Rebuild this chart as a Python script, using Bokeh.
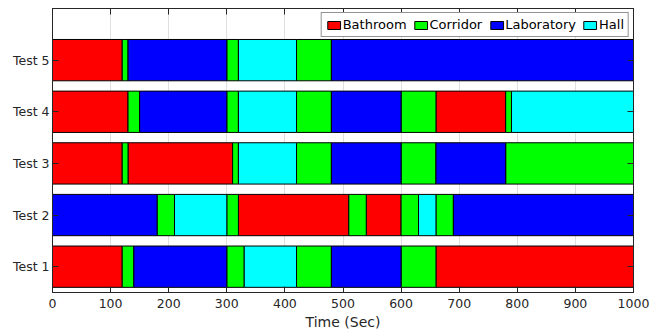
from bokeh.plotting import figure
from bokeh.models import ColumnDataSource, LinearAxis, FixedTicker, Range1d
from bokeh.embed import file_html
from bokeh.resources import INLINE

# ---- data ----
tests = ["Test 1", "Test 2", "Test 3", "Test 4", "Test 5"]
rooms = ["Bathroom", "Corridor", "Laboratory", "Hall"]
room_colors = ["#ff0000", "#00ff00", "#0000ff", "#00ffff"]

test1_edges = [0, 120, 140, 300, 330, 420, 480, 600, 660, 1000]
test1_rooms = ["Bathroom", "Corridor", "Laboratory", "Corridor", "Hall", "Corridor",
               "Laboratory", "Corridor", "Bathroom"]

test2_edges = [0, 180, 210, 300, 320, 510, 540, 600, 630, 660, 690, 1000]
test2_rooms = ["Laboratory", "Corridor", "Hall", "Corridor", "Bathroom", "Corridor",
               "Bathroom", "Corridor", "Hall", "Corridor", "Laboratory"]

test3_edges = [0, 120, 130, 310, 320, 420, 480, 600, 660, 780, 1000]
test3_rooms = ["Bathroom", "Corridor", "Bathroom", "Corridor", "Hall", "Corridor",
               "Laboratory", "Corridor", "Laboratory", "Corridor"]

test4_edges = [0, 130, 150, 300, 320, 420, 480, 600, 660, 780, 790, 1000]
test4_rooms = ["Bathroom", "Corridor", "Laboratory", "Corridor", "Hall", "Corridor",
               "Laboratory", "Corridor", "Bathroom", "Corridor", "Hall"]

test5_edges = [0, 120, 130, 300, 320, 420, 480, 1000]
test5_rooms = ["Bathroom", "Corridor", "Laboratory", "Corridor", "Hall", "Corridor",
               "Laboratory"]

x_ticks = [0, 100, 200, 300, 400, 500, 600, 700, 800, 900, 1000]
x_label = "Time (Sec)"

all_edges = [test1_edges, test2_edges, test3_edges, test4_edges, test5_edges]
all_rooms = [test1_rooms, test2_rooms, test3_rooms, test4_rooms, test5_rooms]

# ---- build sources per room ----
data = {r: {"y": [], "left": [], "right": []} for r in rooms}
for i, (edges, rs) in enumerate(zip(all_edges, all_rooms)):
    for j, r in enumerate(rs):
        data[r]["y"].append(i + 1)
        data[r]["left"].append(edges[j])
        data[r]["right"].append(edges[j + 1])

FONT = "DejaVu Sans"
AX = "#262626"

p = figure(width=660, height=333, output_backend="svg", toolbar_location=None,
           x_range=Range1d(0, 1000), y_range=Range1d(0.5, 6.0),
           min_border_left=52, min_border_right=27, min_border_top=8, min_border_bottom=41)

for r, c in zip(rooms, room_colors):
    src = ColumnDataSource(data[r])
    p.hbar(y="y", left="left", right="right", height=0.8, source=src,
           fill_color=c, line_color="black", line_width=1, legend_label=r)

# axes styling
p.xaxis.ticker = FixedTicker(ticks=x_ticks)
p.yaxis.ticker = FixedTicker(ticks=[1, 2, 3, 4, 5])
p.yaxis.major_label_overrides = {i + 1: t for i, t in enumerate(tests)}
p.xaxis.axis_label = x_label

for ax in [p.xaxis[0], p.yaxis[0]]:
    ax.major_tick_in = 6
    ax.major_tick_out = 0
    ax.minor_tick_in = 0
    ax.minor_tick_out = 0
    ax.axis_line_color = AX
    ax.major_tick_line_color = AX
    ax.major_label_text_font = FONT
    ax.major_label_text_font_size = "12.5px"
    ax.major_label_text_color = AX
    ax.axis_label_text_font = FONT
    ax.axis_label_text_font_size = "14px"
    ax.axis_label_text_font_style = "normal"
    ax.axis_label_text_color = AX
p.xaxis.major_label_standoff = 6
p.xaxis.axis_label_standoff = 3
p.yaxis.major_label_standoff = 3

# top / right tick-only axes
top = LinearAxis(ticker=FixedTicker(ticks=x_ticks))
right = LinearAxis(ticker=FixedTicker(ticks=[1, 2, 3, 4, 5]))
for ax in [top, right]:
    ax.major_tick_in = 6
    ax.major_tick_out = 0
    ax.minor_tick_in = 0
    ax.minor_tick_out = 0
    ax.axis_line_color = AX
    ax.major_tick_line_color = AX
    ax.major_label_text_font_size = "0px"
    ax.major_label_standoff = 0
    ax.major_label_text_alpha = 0
p.add_layout(top, "above")
p.add_layout(right, "right")

p.xgrid.grid_line_color = "#dfdfdf"
p.ygrid.grid_line_color = None
p.outline_line_color = AX

leg = p.legend[0]
leg.location = "top_right"
leg.orientation = "horizontal"
leg.margin = 4
leg.padding = 4
leg.spacing = 6
leg.glyph_width = 16
leg.glyph_height = 10
leg.label_height = 13
leg.label_standoff = 1
leg.label_text_font = FONT
leg.label_text_font_size = "13px"
leg.label_text_color = "black"
leg.border_line_color = AX
leg.border_line_width = 1
leg.background_fill_color = "white"
leg.background_fill_alpha = 1.0

open("out.html", "w").write(file_html(p, INLINE))
